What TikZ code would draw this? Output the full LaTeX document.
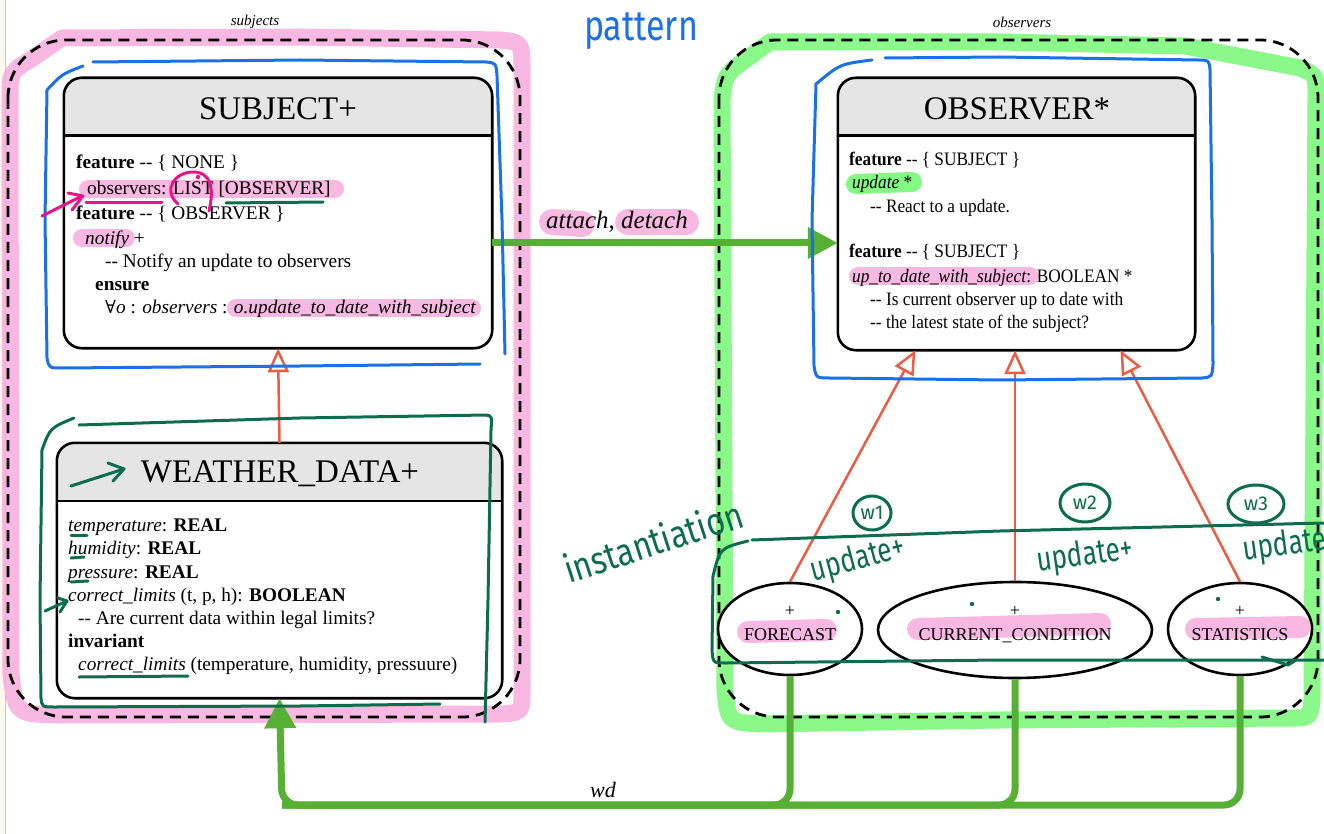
\documentclass[tikz,border=0pt]{standalone}
\usepackage{fontspec}
\setmainfont{Liberation Serif}
\newfontfamily\hand{Fira Sans}
\newfontfamily\djs{DejaVu Serif}
\usetikzlibrary{shapes.geometric,arrows.meta,calc}
\definecolor{hlpink}{RGB}{248,172,222}
\definecolor{hlgreen}{RGB}{118,248,118}
\definecolor{handblue}{RGB}{25,112,232}
\definecolor{handgreen}{RGB}{12,108,78}
\definecolor{hmag}{RGB}{232,20,140}
\definecolor{inhred}{RGB}{236,92,66}
\definecolor{flowgreen}{RGB}{86,176,52}
\definecolor{headgray}{RGB}{229,229,229}
\definecolor{cream}{RGB}{252,250,238}
\tikzset{
  umlbox/.style={fill=white, inner sep=0pt},
  umlline/.style={line width=2.6pt},
  titletext/.style={font=\fontsize{33}{36}\selectfont},
  body/.style={anchor=base west, inner sep=0pt, font=\fontsize{19.3}{22}\selectfont},
  obody/.style={anchor=base west, inner sep=0pt, xscale=0.91, font=\fontsize{19}{22}\selectfont},
  grouplbl/.style={font=\itshape\fontsize{15}{18}\selectfont},
  groupbox/.style={draw, line width=2.8pt, dash pattern=on 11pt off 7pt, rounded corners=58pt},
  inherit/.style={draw=inhred, line width=2.5pt, -{Triangle[open, length=24pt, width=21pt]}},
  flow/.style={draw=flowgreen, line width=7pt},
  flowtip/.style={-{Triangle[length=30pt, width=30pt]}},
  hlp/.style={draw=hlpink, line width=18pt, line cap=round, opacity=0.85},
  hlg/.style={draw=hlgreen, line width=20pt, line cap=round, opacity=0.9},
  band/.style={line width=17pt, line join=round, line cap=round, opacity=0.85},
  pen/.style={line width=3pt, line cap=round, line join=round},
  ellnode/.style={draw, ellipse, line width=2.6pt, fill=white, inner sep=0pt},
  elltext/.style={font=\fontsize{18}{18}\selectfont, inner sep=0pt, anchor=base},
  handtext/.style={font=\hand\fontsize{26}{26}\selectfont, inner sep=0pt},
}
\newcommand{\umlframe}[1]{%
  \begin{scope}
    \clip[rounded corners=18pt] (#1.north west) rectangle (#1.south east);
    \fill[headgray] (#1.north west) rectangle ($(#1.north east)+(0,58)$);
  \end{scope}
  \draw[umlline] ($(#1.north west)+(0,58)$) -- ($(#1.north east)+(0,58)$);
  \draw[umlline, rounded corners=18pt] (#1.north west) rectangle (#1.south east);
}
\begin{document}
\begin{tikzpicture}[x=1pt, y=-1pt]
\useasboundingbox (0,0) rectangle (1324,834);
\clip (0,0) rectangle (1324,834);
\fill[white] (0,0) rectangle (1324,834);
\fill[cream] (0,0) rectangle (5,834);
\draw[gray!45, line width=1pt] (5,0) -- (5,834);

% group highlighter bands
\draw[band, draw=hlpink] (62,38) -- (300,37) -- (500,40) .. controls (522,42) .. (522,72) -- (522,690) .. controls (522,713) .. (498,714) -- (60,715) .. controls (16,714) .. (11,675) -- (10,100) .. controls (10,72) .. (30,60) -- cycle;
\draw[band, draw=hlgreen] (770,42) -- (1000,42) -- (1185,46) -- (1300,68) .. controls (1316,75) .. (1316,95) -- (1312,700) .. controls (1310,718) .. (1290,718) -- (1000,720) -- (760,724) .. controls (728,722) .. (725,690) -- (722,100) .. controls (725,75) .. (745,60) -- cycle;

% group boxes
\node[grouplbl] (lsub) at (255,22) {subjects};
\node[grouplbl] (lobs) at (1022,22) {observers};
\draw[groupbox] (8,40) rectangle (520,717);
\draw[groupbox] (719,40) rectangle (1318,717);

% UML boxes
\node[umlbox, minimum width=428, minimum height=270] (subj) at (278,213) {};
\umlframe{subj}
\node[umlbox, minimum width=445, minimum height=255] (wdd) at (279.5,570.5) {};
\umlframe{wdd}
\node[umlbox, minimum width=357, minimum height=272] (obs) at (1016.5,214) {};
\umlframe{obs}

\node[titletext] (tsubj) at (278,109) {SUBJECT+};
\node[titletext] (twdd) at (280,474) {WEATHER\_DATA+};
\node[titletext] (tobs) at (1017,109) {OBSERVER*};

% text highlights
\draw[hlp] (88,189) -- (335,189);
\draw[hlp] (82,238) -- (126,238);
\draw[hlp] (236,308) -- (472,308);
\draw[hlp] (858,276) -- (1030,276);
\draw[hlg] (856,184) -- (912,182);
\draw[hlp, line width=26pt] (552,222) -- (582,224);
\draw[hlp, line width=26pt] (628,222) -- (686,222);

% SUBJECT text
\node[body] (s1) at (76,169) {\textbf{feature} -{}- \{ NONE \}};
\node[body] (s2) at (87,195) {observers: LIST [OBSERVER]};
\node[body] (s3) at (76,220) {\textbf{feature} -{}- \{ OBSERVER \}};
\node[body] (s4) at (85,244) {\textit{notify} +};
\node[body] (s5) at (105,267) {-{}- Notify an update to observers};
\node[body] (s6) at (95,290) {\textbf{ensure}};
\node[body] (s7) at (105,313) {{\djs\fontsize{18}{22}\selectfont ∀}\textit{o} : \textit{observers} : \textit{o.update\_to\_date\_with\_subject}};

% WEATHER text
\node[body] (w1) at (68,531) {\textit{temperature}: \textbf{REAL}};
\node[body] (w2) at (68,554) {\textit{humidity}: \textbf{REAL}};
\node[body] (w3) at (68,578) {\textit{pressure}: \textbf{REAL}};
\node[body] (w4) at (68,601) {\textit{correct\_limits} (t, p, h): \textbf{BOOLEAN}};
\node[body] (w5) at (78,624) {-{}- Are current data within legal limits?};
\node[body] (w6) at (68,647) {\textbf{invariant}};
\node[body] (w7) at (78,670) {\textit{correct\_limits} (temperature, humidity, pressuure)};

% OBSERVER text
\node[obody] (o1) at (849,166) {\textbf{feature} -{}- \{ SUBJECT \}};
\node[obody] (o2) at (852,189) {\textit{update} *};
\node[obody] (o3) at (870,213) {-{}- React to a update.};
\node[obody] (o4) at (849,258) {\textbf{feature} -{}- \{ SUBJECT \}};
\node[obody] (o5) at (852,282) {\textit{up\_to\_date\_with\_subject}: BOOLEAN *};
\node[obody] (o6) at (870,305) {-{}- Is current observer up to date with};
\node[obody] (o7) at (870,328) {-{}- the latest state of the subject?};

% ellipses
\node[ellnode, minimum width=144, minimum height=92] (fc) at (790,629) {};
\node[ellnode, minimum width=274, minimum height=96] (cc) at (1015,630) {};
\node[ellnode, minimum width=144, minimum height=92] (st) at (1240,629) {};
\draw[hlp, line width=22pt] (748,632) -- (826,630);
\draw[hlp, line width=22pt] (918,629) -- (1100,624);
\draw[hlp, line width=22pt] (1196,629) -- (1300,627);
\node[elltext] (fcp) at (790,616) {+};
\node[elltext] (fct) at (790,640) {FORECAST};
\node[elltext] (ccp) at (1015,616) {+};
\node[elltext] (cct) at (1015,640) {CURRENT\_CONDITION};
\node[elltext] (stp) at (1240,616) {+};
\node[elltext] (stt) at (1240,640) {STATISTICS};

% inheritance
\draw[inherit] (wdd.north) -- (subj.south);
\draw[inherit] (fc.north) -- ($(obs.south)+(-101,0)$);
\draw[inherit] (cc.north) -- (cc.north |- obs.south);
\draw[inherit] (st.north) -- ($(obs.south)+(104,0)$);

% flows
\draw[flow, flowtip] ($(subj.east)+(0,30)$) -- ($(obs.west)+(0,29)$);
\node[font=\fontsize{25}{28}\selectfont, inner sep=0pt] (ad) at (617,222) {\textit{attach}, \textit{detach}};
\coordinate (corner) at (282,805);
\draw[flow, rounded corners=16pt] (fc.south) |- (corner);
\draw[flow, rounded corners=16pt] (cc.south) |- (corner);
\draw[flow, flowtip, rounded corners=16pt] (st.south) |- (corner) -- (wdd.south);
\node[font=\itshape\fontsize{22}{24}\selectfont, inner sep=0pt] (wdl) at (603,790) {wd};

% blue hand rectangles
\draw[pen, handblue] (83,66) .. controls (62,74) .. (47,90) -- (45,220) -- (47,358) .. controls (49,368) .. (62,368) -- (300,366) -- (480,364);
\draw[pen, handblue] (93,62) -- (300,60) -- (486,62) .. controls (496,63) .. (497,76) -- (502,220) -- (505,354);
\draw[pen, handblue] (872,60) .. controls (840,64) .. (816,84) -- (812,220) -- (814,366) .. controls (816,378) .. (830,378) -- (1000,380) -- (1202,378) .. controls (1212,377) .. (1213,364) -- (1212,220) -- (1210,70) .. controls (1209,60) .. (1198,60) -- (1000,57) -- (885,58);

% green hand rectangles
\draw[pen, handgreen] (74,418) .. controls (50,428) .. (42,450) -- (40,600) -- (41,698) .. controls (42,707) .. (55,707) -- (300,706) -- (440,704);
\draw[pen, handgreen] (79,425) -- (300,418) -- (486,415) .. controls (492,416) .. (491,430) -- (488,600) -- (485,722);
\draw[pen, handgreen] (748,541) .. controls (720,548) .. (713,576) -- (712,650) .. controls (713,663) .. (726,663) -- (1000,660) -- (1324,660);
\draw[pen, handgreen] (752,540) -- (1000,531) -- (1324,523);
\draw[pen, handgreen] (1262,657) -- (1288,665) -- (1296,660);

% magenta annotations
\draw[pen, hmag] (42,216) -- (82,196);
\draw[pen, hmag] (68,193) -- (83,196) -- (72,210);
\draw[pen, hmag] (86,203) -- (162,203);
\draw[pen, hmag] (178,204) .. controls (162,190) and (175,172) .. (193,172) .. controls (212,172) and (214,190) .. (209,211);
\fill[hmag] (198,177) circle (2.2pt);
\draw[pen, handgreen] (226,203) -- (323,202);

% green annotations in WEATHER_DATA
\draw[pen, handgreen] (71,486) -- (124,469);
\draw[pen, handgreen] (108,463) -- (124,469) -- (113,481);
\draw[pen, handgreen] (71,535) -- (87,535);
\draw[pen, handgreen] (71,558) -- (84,557);
\draw[pen, handgreen] (71,582) -- (88,581);
\draw[pen, handgreen] (45,611) -- (67,601);
\draw[pen, handgreen] (58,598) -- (67,601) -- (60,612);
\draw[pen, handgreen] (79,677) -- (188,676);

% handwriting
\node[handtext, text=handblue, font=\hand\fontsize{34}{34}\selectfont, yscale=1.25] (hpat) at (641,31) {pattern};
\node[handtext, text=handgreen, font=\hand\fontsize{32}{32}\selectfont, rotate=18, yscale=1.2] (hinst) at (653,541) {instantiation};
\node[handtext, text=handgreen, rotate=15, yscale=1.3] (hu1) at (858,560) {update+};
\node[handtext, text=handgreen, rotate=8, yscale=1.3] (hu2) at (1085,556) {update+};
\node[handtext, text=handgreen, rotate=8, yscale=1.3, anchor=west] (hu3) at (1243,552) {update+};
\draw[pen, handgreen] (872,513) ellipse (19pt and 17pt);
\node[handtext, text=handgreen, font=\hand\fontsize{20}{20}\selectfont] (c1) at (872,513) {w1};
\draw[pen, handgreen] (1085,503) ellipse (25pt and 19pt);
\node[handtext, text=handgreen, font=\hand\fontsize{20}{20}\selectfont] (c2) at (1085,503) {w2};
\draw[pen, handgreen] (1256,504) ellipse (28pt and 19pt);
\node[handtext, text=handgreen, font=\hand\fontsize{20}{20}\selectfont] (c3) at (1256,504) {w3};
\fill[handgreen] (838,612) circle (2.2pt);
\fill[handgreen] (972,604) circle (2.2pt);
\fill[handgreen] (1218,599) circle (2.2pt);
\end{tikzpicture}
\end{document}
